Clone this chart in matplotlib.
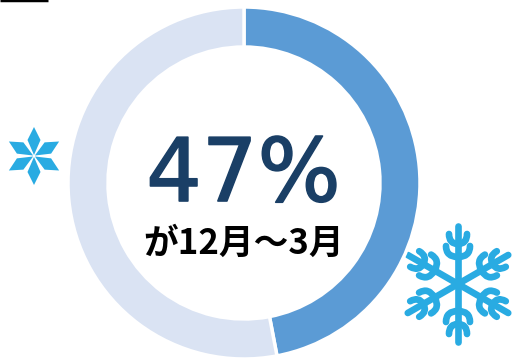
import numpy as np
import matplotlib
matplotlib.use("Agg")
import matplotlib.pyplot as plt
import matplotlib.patheffects as pe
from matplotlib.patches import PathPatch, Polygon
from matplotlib.path import Path

plt.rcParams['font.family'] = ['Noto Sans CJK JP', 'DejaVu Sans']

# Part des ventes sur la période
share = [47, 53]
colors = ['#5b9bd5', '#dae3f3']
percent_label = "47%"
period_label = "が12月〜3月"

W, H = 513, 358
fig = plt.figure(figsize=(W/100, H/100), dpi=100)

# Calque en pixels pour les décorations
bg = fig.add_axes([0, 0, 1, 1])
bg.set_xlim(0, W)
bg.set_ylim(H, 0)
bg.axis('off')

#%% Anneau
cx, cy, R = 244, 183, 176
ax = fig.add_axes([(cx-R)/W, 1-(cy+R)/H, 2*R/W, 2*R/H])
ax.pie(share, colors=colors, startangle=90, counterclock=False, radius=1,
       wedgeprops=dict(width=40/R, edgecolor='white', linewidth=2.5))
ax.set_xlim(-1, 1)
ax.set_ylim(-1, 1)
ax.axis('off')

# Filet noir en haut à gauche
bg.plot([0, 48], [0, 0], color='black', lw=2.5, solid_capstyle='butt')


def rot(x, y, a):
    return x*np.cos(a)-y*np.sin(a), x*np.sin(a)+y*np.cos(a)


#%% Petit flocon
sx, sy = 34, 156
for k in range(6):
    a = k*np.pi/3
    pts = [(0, -1), (-6.5, -16), (0, -29), (6.5, -16)]
    pts = [rot(p[0], p[1], a) for p in pts]
    bg.add_patch(Polygon([(sx+p[0], sy+p[1]) for p in pts], closed=True,
                         fc='#29abe2', ec='none', zorder=3))

#%% Grand flocon
bx, by = 458, 284
snow = '#29abe2'


def stroke(verts, codes, a):
    v = [rot(p[0], p[1], a) for p in verts]
    v = [(bx+p[0], by+p[1]) for p in v]
    bg.add_patch(PathPatch(Path(v, codes), fc='none', ec=snow, lw=4.8,
                           capstyle='round', joinstyle='round', zorder=3))


C3 = [Path.MOVETO, Path.CURVE3, Path.CURVE3]
for k in range(6):
    a = k*np.pi/3
    stroke([(0, 0), (0, -58)], [Path.MOVETO, Path.LINETO], a)
    for s in (-1, 1):
        stroke([(0, -27), (s*12, -27), (s*12, -38)], C3, a)
        stroke([(0, -40), (s*9, -40), (s*9, -50)], C3, a)

#%% Textes
# Contour arrondi pour épaissir les chiffres
t = bg.text(243.5, 177, percent_label, color='#1a3f66', fontsize=63,
            family='DejaVu Sans', ha='center', va='center', zorder=4)
t.set_path_effects([pe.withStroke(linewidth=1.2, foreground='#1a3f66',
                                  joinstyle='round', capstyle='round')])
bg.text(243.5, 243, period_label, color='black', fontsize=25, fontweight='bold',
        ha='center', va='center', zorder=4)

fig.savefig("out.png", dpi=100)
